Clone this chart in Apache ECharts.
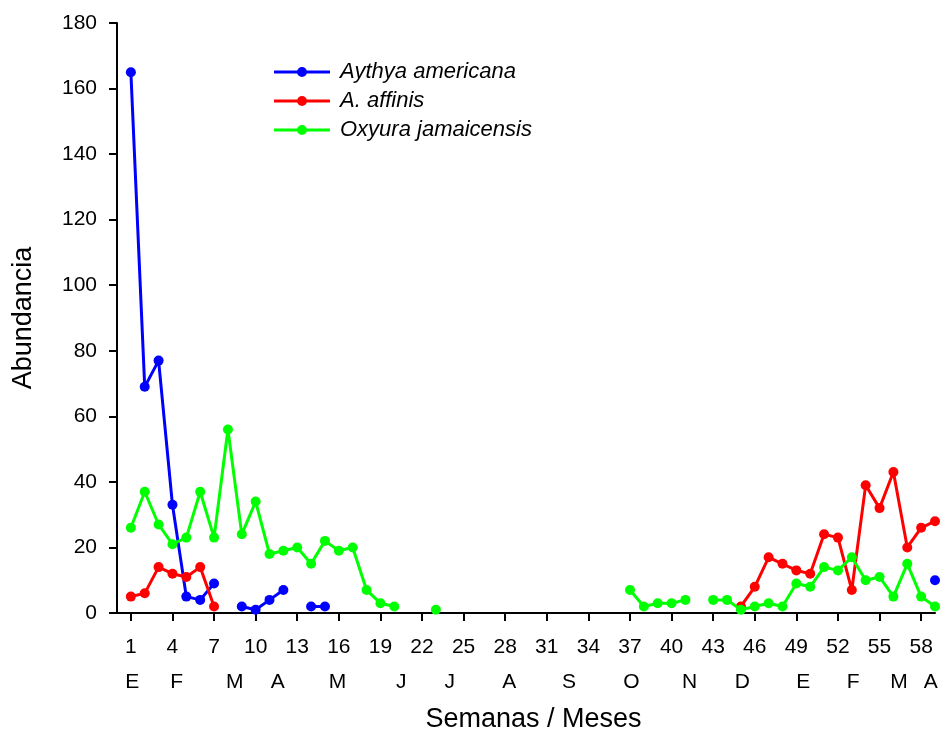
<!DOCTYPE html>
<html>
<head>
<meta charset="utf-8">
<script src="https://cdn.jsdelivr.net/npm/echarts@6/dist/echarts.min.js"></script>
<style>html,body{margin:0;padding:0;background:#fff;}#c{width:945px;height:733px;}</style>
</head>
<body>
<div id="c"></div>
<script>
// Weeks 1..59
var weeks = [];
for (var i = 1; i <= 59; i++) weeks.push(i);

var seriesNames = ['Aythya americana', 'A. affinis', 'Oxyura jamaicensis'];

var aythyaAmericana = [165, 69, 77, 33, 5, 4, 9, null, 2, 1, 4, 7, null, 2, 2,
  null, null, null, null, null, null, null, null, null, null, null, null, null, null, null,
  null, null, null, null, null, null, null, null, null, null, null, null, null, null, null,
  null, null, null, null, null, null, null, null, null, null, null, null, null, 10];

var aAffinis = [5, 6, 14, 12, 11, 14, 2, null, null, null, null, null, null, null, null,
  null, null, null, null, null, null, null, null, null, null, null, null, null, null, null,
  null, null, null, null, null, null, null, null, null, null, null, null, null, null, 2,
  8, 17, 15, 13, 12, 24, 23, 7, 39, 32, 43, 20, 26, 28];

var oxyuraJamaicensis = [26, 37, 27, 21, 23, 37, 23, 56, 24, 34, 18, 19, 20, 15, 22,
  19, 20, 7, 3, 2, null, null, 1, null, null, null, null, null, null, null,
  null, null, null, null, null, null, 7, 2, 3, 3, 4, null, 4, 4, 1,
  2, 3, 2, 9, 8, 14, 13, 17, 10, 11, 5, 15, 5, 2];

var weekTicks = [1, 4, 7, 10, 13, 16, 19, 22, 25, 28, 31, 34, 37, 40, 43, 46, 49, 52, 55, 58];
var monthLabels = ['E', 'F', 'M', 'A', 'M', 'J', 'J', 'A', 'S', 'O', 'N', 'D', 'E', 'F', 'M', 'A'];
var monthWeeks = [1.1, 4.3, 8.5, 11.6, 15.9, 20.5, 24.0, 28.3, 32.6, 37.1, 41.3, 45.1, 49.5, 53.1, 56.4, 58.7];

var colors = ['#0000ff', '#ff0000', '#00ff00'];
var FONT = '"Liberation Sans", Arial, sans-serif';
// legend glyph: a 3px line with a dot in its middle (56 x 10 box)
var LEGEND_ICON = 'path://M0,3.5 L23.2,3.5 L23.2,6.5 L0,6.5 Z M32.8,3.5 L56,3.5 L56,6.5 L32.8,6.5 Z M23,5 A5,5 0 1,1 33,5 A5,5 0 1,1 23,5 Z';

function pairs(vals) {
  return weeks.map(function (w, i) { return [w, vals[i]]; });
}

var chart = echarts.init(document.getElementById('c'), null, { renderer: 'canvas' });

var lineSeries = [aythyaAmericana, aAffinis, oxyuraJamaicensis].map(function (vals, k) {
  return {
    name: seriesNames[k],
    type: 'line',
    data: pairs(vals),
    connectNulls: false,
    symbol: 'circle',
    symbolSize: 10,
    showSymbol: true,
    showAllSymbol: true,
    lineStyle: { width: 3, color: colors[k] },
    itemStyle: { color: colors[k] },
    emphasis: { disabled: true },
    z: 2 + k
  };
});

chart.setOption({
  animation: false,
  backgroundColor: '#fff',
  textStyle: { fontFamily: FONT },
  grid: { left: 117, right: 10, top: 23, bottom: 120, containLabel: false, outerBoundsMode: 'none' },
  legend: {
    data: seriesNames.map(function (n) { return { name: n, icon: LEGEND_ICON }; }),
    orient: 'vertical',
    left: 274,
    top: 61,
    padding: 0,
    itemWidth: 56,
    itemHeight: 10,
    itemGap: 7,
    textStyle: { fontStyle: 'italic', fontSize: 22, color: '#000', fontFamily: FONT, padding: [0, 0, 0, 5] }
  },
  xAxis: [{
    type: 'value',
    min: 0,
    max: 59,
    position: 'bottom',
    name: 'Semanas / Meses',
    nameLocation: 'middle',
    nameGap: 93,
    nameTextStyle: { fontSize: 27, color: '#000', fontFamily: FONT, padding: [0, 0, 0, 15] },
    splitLine: { show: false },
    axisLine: { show: true, lineStyle: { color: '#000', width: 2 } },
    axisTick: { show: true, inside: false, length: 8, lineStyle: { color: '#000', width: 2 }, customValues: weekTicks },
    axisLabel: { show: true, customValues: weekTicks, margin: 24, fontSize: 21, color: '#000', fontFamily: FONT }
  }, {
    type: 'value',
    min: 0,
    max: 59,
    position: 'bottom',
    offset: 0,
    splitLine: { show: false },
    axisLine: { show: false },
    axisTick: { show: false },
    axisLabel: {
      show: true,
      customValues: monthWeeks,
      margin: 59,
      fontSize: 21,
      color: '#000',
      fontFamily: FONT,
      formatter: function (v) {
        for (var j = 0; j < monthWeeks.length; j++) {
          if (Math.abs(monthWeeks[j] - v) < 1e-6) return monthLabels[j];
        }
        return '';
      }
    }
  }],
  yAxis: {
    type: 'value',
    min: 0,
    max: 180,
    interval: 20,
    name: 'Abundancia',
    nameLocation: 'middle',
    nameGap: 80,
    nameTextStyle: { fontSize: 27, color: '#000', fontFamily: FONT },
    splitLine: { show: false },
    axisLine: { show: true, lineStyle: { color: '#000', width: 2 } },
    axisTick: { show: true, inside: false, length: 8, lineStyle: { color: '#000', width: 2 } },
    axisLabel: { margin: 20, fontSize: 21, color: '#000', fontFamily: FONT }
  },
  series: lineSeries
});
</script>
</body>
</html>
